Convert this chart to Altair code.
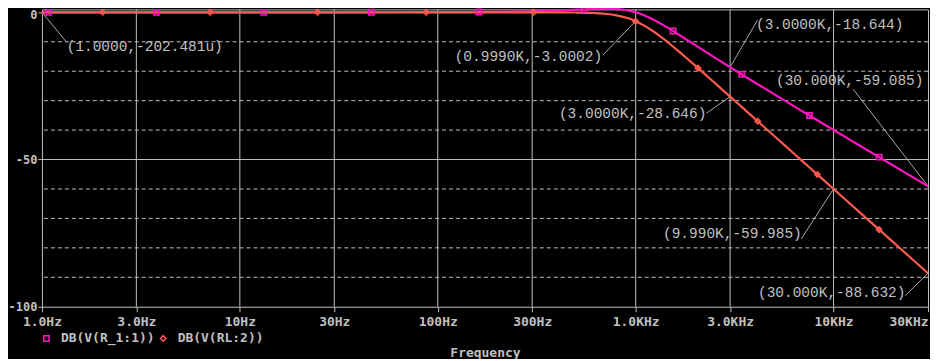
import altair as alt
import pandas as pd

# ---------------- data ----------------
series_names = ["DB(V(R_1:1))", "DB(V(RL:2))"]

freq_hz = [1, 3, 10, 30, 100, 200, 300, 400, 500, 600,
           700, 800, 900, 1000, 1100, 1200, 1300, 1400, 1500, 1600,
           1800, 2000, 2200, 2500, 2800, 3000, 3500, 4000, 5000, 6000,
           7000, 8000, 10000, 12000, 15000, 20000, 25000, 30000]
db_r1 = [0.000, 0.000, 0.000, 0.004, 0.043, 0.170, 0.371, 0.627, 0.902, 1.137,
         1.249, 1.137, 0.726, 0.000, -0.983, -2.131, -3.356, -4.596, -5.812, -6.985,
         -9.168, -11.139, -12.920, -15.291, -17.373, -18.644, -21.424, -23.821, -27.788, -31.007,
         -33.716, -36.056, -39.957, -43.137, -47.024, -52.031, -55.910, -59.085]
db_rl = [0.000, 0.000, 0.000, 0.000, 0.000, 0.000, -0.003, -0.018, -0.067, -0.198,
         -0.483, -1.011, -1.851, -3.010, -4.427, -6.005, -7.654, -9.309, -10.931, -12.499,
         -15.442, -18.129, -20.584, -23.894, -26.838, -28.646, -32.646, -36.125, -41.938, -46.689,
         -50.706, -54.185, -60.000, -64.751, -70.565, -78.062, -83.876, -88.632]

# marker positions along each trace
sq_freq = [1.08, 3.79, 13.2, 46.2, 161.5, 551, 1546, 3437, 7551, 16990]
sq_db = [0.000, 0.000, 0.001, 0.009, 0.112, 1.03, -6.36, -21.09, -35.05, -49.19]
dm_freq = [2.03, 7.08, 24.7, 87.4, 305, 999, 2065, 4137, 8285, 16990]
dm_db = [0.000, 0.000, 0.000, 0.000, -0.003, -3.000, -18.95, -37.00, -55.10, -73.81]

x_tick_vals = [1, 3, 10, 30, 100, 300, 1000, 3000, 10000, 30000]
x_tick_labels = ["1.0Hz", "3.0Hz", "10Hz", "30Hz", "100Hz", "300Hz",
                 "1.0KHz", "3.0KHz", "10KHz", "30KHz"]
y_tick_vals = [0, -50, -100]
y_tick_labels = ["0", "-50", "-100"]

x_grid = [3, 10, 30, 100, 300, 1000, 3000, 10000]
y_grid_dashed = [-10, -20, -30, -40, -60, -70, -80, -90]
y_grid_solid = [-50]

# cursor annotations
ann_text = ["(1.0000,-202.481u)", "(0.9990K,-3.0002)", "(3.0000K,-18.644)",
            "(30.000K,-59.085)", "(3.0000K,-28.646)", "(9.990K,-59.985)",
            "(30.000K,-88.632)"]
ann_freq = [1, 999, 3000, 30000, 3000, 9990, 30000]
ann_db = [-0.000202481, -3.0002, -18.644, -59.085, -28.646, -59.985, -88.632]

# layout of annotation labels (data units)
ann_label_freq = [3.307, 287.1, 9561, 12063, 965.6, 3082, 9786]
ann_label_db = [-11.88, -15.27, -4.42, -23.40, -34.59, -75.26, -95.26]
ann_leader_freq = [1.321, 681.6, 4121, 12562, 2280, 6868, 22975]
ann_leader_db = [-9.85, -14.59, -2.73, -26.11, -34.25, -76.95, -96.27]

# ---------------- styling ----------------
MAGENTA = "#ff14c0"
SALMON = "#ff5a4e"
GRAY = "#c0c0c0"
LEADER = "#a8a8a8"
AXFONT = "DejaVu Sans Mono"
ANNFONT = "Liberation Mono"


def label_expr(vals, labels):
    expr = "''"
    for v, l in reversed(list(zip(vals, labels))):
        tol = abs(v) * 1e-6 + 1e-9
        expr = f"abs(datum.value - ({v})) < {tol} ? '{l}' : ({expr})"
    return expr


x_axis = alt.Axis(
    values=x_tick_vals,
    labelExpr=label_expr(x_tick_vals, x_tick_labels),
    labelFont=AXFONT, labelFontSize=13, labelFontWeight="bold", labelColor=GRAY,
    labelAlign={"condition": {"test": "datum.value >= 29999", "value": "right"}, "value": "center"},
    labelOverlap=False, labelFlush=False, labelPadding=4,
    tickColor=GRAY, tickSize=5, tickWidth=1,
    domain=False, grid=False,
    title="Frequency", titleFont=AXFONT, titleFontSize=13, titleFontWeight="bold",
    titleColor=GRAY, titlePadding=18,
)
y_axis = alt.Axis(
    values=y_tick_vals,
    labelExpr=label_expr(y_tick_vals, y_tick_labels),
    labelFont=AXFONT, labelFontSize=12, labelFontWeight="bold", labelColor=GRAY,
    labelOffset={"condition": {"test": "datum.value == 0", "value": 2}, "value": 0},
    labelPadding=1, tickColor=GRAY, tickSize=4, tickWidth=1,
    domain=False, grid=False, title=None,
)

xs = alt.Scale(type="log", domain=[1, 30000], nice=False)
ys = alt.Scale(domain=[-100, 1.0], nice=False, zero=False)


def X(field):
    return alt.X(f"{field}:Q", scale=xs, axis=x_axis)


def Y(field):
    return alt.Y(f"{field}:Q", scale=ys, axis=y_axis)


series_color_scale = alt.Scale(domain=series_names, range=[MAGENTA, SALMON])

legend = alt.Legend(
    title=None, orient="none", legendX=-2, legendY=323, direction="horizontal",
    labelFont=AXFONT, labelFontSize=13, labelFontWeight="bold", labelColor=GRAY,
    symbolSize=30, symbolStrokeWidth=1.5, labelOffset=8, columnPadding=2, padding=0,
    labelLimit=300,
)

# ---------------- tables ----------------
r1_curve = pd.DataFrame({"f": freq_hz, "db": db_r1})
rl_curve = pd.DataFrame({"f": freq_hz, "db": db_rl})
markers = pd.DataFrame({
    "f": sq_freq + dm_freq,
    "db": sq_db + dm_db,
    "series": [series_names[0]] * len(sq_freq) + [series_names[1]] * len(dm_freq),
})
ann = pd.DataFrame({
    "f": ann_freq, "db": ann_db,
    "f2": ann_leader_freq, "db2": ann_leader_db,
    "lf": ann_label_freq, "ldb": ann_label_db,
    "label": ann_text,
})

xgrid = alt.Chart(pd.DataFrame({"f": x_grid})).mark_rule(color=GRAY, strokeWidth=1).encode(x=X("f"))
ygrid_d = alt.Chart(pd.DataFrame({"db": y_grid_dashed})).mark_rule(
    color=GRAY, strokeWidth=1, strokeDash=[4, 3]).encode(y=Y("db"))
ygrid_s = alt.Chart(pd.DataFrame({"db": y_grid_solid})).mark_rule(
    color=GRAY, strokeWidth=1).encode(y=Y("db"))

leaders = alt.Chart(ann).mark_rule(color=LEADER, strokeWidth=1).encode(
    x=X("f"), y=Y("db"), x2="f2:Q", y2="db2:Q")

line_r1 = alt.Chart(r1_curve).mark_line(color=MAGENTA, strokeWidth=2.2, interpolate="monotone",
                                        clip=False).encode(x=X("f"), y=Y("db"))
line_rl = alt.Chart(rl_curve).mark_line(color=SALMON, strokeWidth=2.2, interpolate="monotone",
                                        clip=False).encode(x=X("f"), y=Y("db"))

points = alt.Chart(markers).mark_point(filled=False, size=28, strokeWidth=1.6, opacity=1).encode(
    x=X("f"), y=Y("db"),
    color=alt.Color("series:N", scale=series_color_scale, legend=legend),
    shape=alt.Shape("series:N", scale=alt.Scale(domain=series_names, range=["square", "diamond"]),
                    legend=legend),
)

texts = alt.Chart(ann).mark_text(font=ANNFONT, fontSize=14.5, color=GRAY,
                                 align="center", baseline="middle").encode(
    x=X("lf"), y=Y("ldb"), text="label:N")

chart = alt.layer(xgrid, ygrid_d, ygrid_s, leaders, line_r1, line_rl, points, texts).properties(
    width=888, height=298,
    padding={"left": 34, "top": 1, "right": 2, "bottom": 52},
    autosize=alt.AutoSizeParams(type="none"),
).configure(background="black").configure_view(stroke=GRAY, strokeWidth=1, fill="black")

chart.save("out.html", embed_options={"renderer": "svg", "actions": False})
